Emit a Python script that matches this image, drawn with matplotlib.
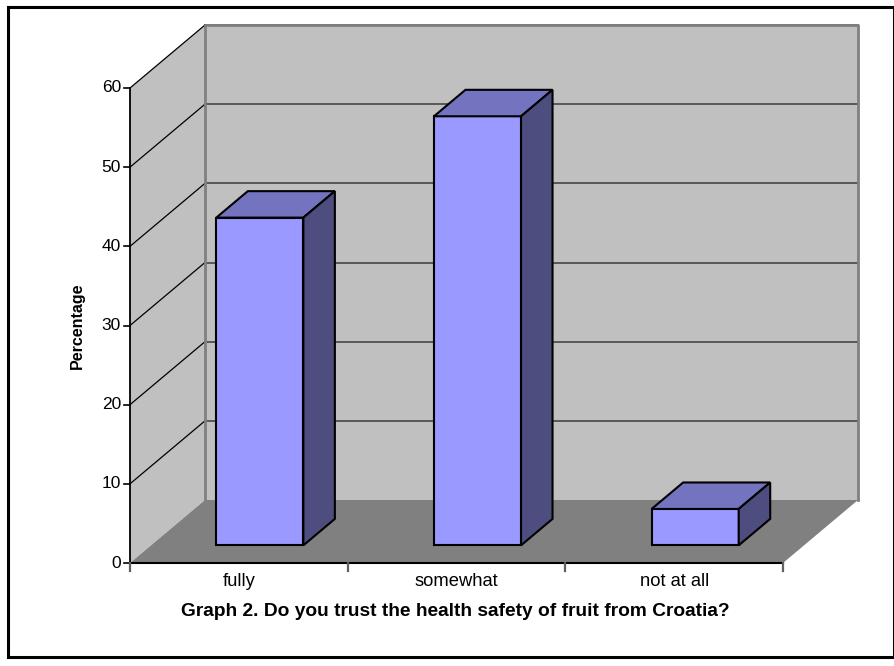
import matplotlib
matplotlib.use("Agg")
import matplotlib.pyplot as plt
from matplotlib.patches import Polygon, Rectangle

# Survey answers (percent of respondents)
categories = ["fully", "somewhat", "not at all"]
values = [41.4, 54.2, 4.6]
y_ticks = [0, 10, 20, 30, 40, 50, 60]
y_max = 60
y_label = "Percentage"
title = "Graph 2. Do you trust the health safety of fruit from Croatia?"

# Colours of the pseudo-3D chart
wall_color = "#C0C0C0"
floor_color = "#808080"
bar_front = "#9999FF"
bar_top = "#7373BF"
bar_side = "#4D4D80"

W, H = 894, 666
fig = plt.figure(figsize=(W / 100, H / 100), dpi=100)
ax = fig.add_axes([0, 0, 1, 1])
ax.set_axis_off()

# Front plane placement: pixels per category / per percent
px_cat = 653 / 3
px_val = 475 / 60
x0_px, y0_px = 130, 666 - 563
ax.set_xlim(-x0_px / px_cat, (W - x0_px) / px_cat)
ax.set_ylim(-y0_px / px_val, (H - y0_px) / px_val)

# Depth offset of the back wall in data units
DX = 75 / px_cat
DY = 63 / px_val
n = len(categories)

font = "Liberation Sans"

# Side wall, back wall, floor
ax.add_patch(Polygon([(0, 0), (DX, DY), (DX, y_max + DY), (0, y_max)],
                     closed=True, fc=wall_color, ec="none", zorder=1))
ax.add_patch(Polygon([(DX, DY), (n + DX, DY), (n + DX, y_max + DY), (DX, y_max + DY)],
                     closed=True, fc=wall_color, ec="none", zorder=1))
ax.add_patch(Polygon([(0, 0), (n, 0), (n + DX, DY), (DX, DY)],
                     closed=True, fc=floor_color, ec="none", zorder=2))

# Gridlines on the walls
for v in y_ticks[1:]:
    ax.plot([DX, n + DX], [v + DY, v + DY], color="#505050", lw=1.3, zorder=1.5)
    ax.plot([0, DX], [v, v + DY], color="black", lw=0.9, zorder=1.5)
# Wall outline
ax.plot([DX, DX, n + DX, n + DX], [DY, y_max + DY, y_max + DY, DY],
        color="#808080", lw=2, zorder=1.6)

# Axis lines and ticks
ax.plot([0, 0], [0, y_max], color="black", lw=1.3, zorder=3)
ax.plot([0, n], [0, 0], color="black", lw=1.5, zorder=3)
tick_x = 6 / px_cat
for v in y_ticks:
    ax.plot([-tick_x, 0], [v, v], color="black", lw=1.2, zorder=3)
    ax.text(-tick_x - 3 / px_cat, v, str(v), ha="right", va="center",
            fontsize=12.5, family=font, zorder=3)
for i in range(n + 1):
    ax.plot([i, i], [0, -8 / px_val], color="#606060", lw=1.6, zorder=3)
for i, c in enumerate(categories):
    ax.text(i + 0.5, -18 / px_val, c, ha="center", va="center",
            fontsize=13.2, family=font)

# Bars: front face, top and right side
bw = 0.4
f0, f1 = 0.28, 0.70
for i, v in enumerate(values):
    xl = i + 0.5 - bw / 2 + f0 * DX
    xr = xl + bw
    yb = f0 * DY
    ddx, ddy = (f1 - f0) * DX, (f1 - f0) * DY
    front = [(xl, yb), (xr, yb), (xr, yb + v), (xl, yb + v)]
    top = [(xl, yb + v), (xr, yb + v), (xr + ddx, yb + v + ddy), (xl + ddx, yb + v + ddy)]
    side = [(xr, yb), (xr + ddx, yb + ddy), (xr + ddx, yb + v + ddy), (xr, yb + v)]
    for poly, col in ((front, bar_front), (top, bar_top), (side, bar_side)):
        ax.add_patch(Polygon(poly, closed=True, fc=col, ec="black", lw=1.5,
                             joinstyle="miter", zorder=4))

# Axis title and caption
ax.text(-53 / px_cat, y_max / 2, y_label, rotation=90, ha="center", va="center",
        fontsize=11.5, fontweight="bold", family=font)
fig.text(455 / W, 1 - 612 / H, title, ha="center", va="center",
         fontsize=13.8, fontweight="bold", family=font)

# Outer frame
fig.add_artist(Rectangle((8 / W, 1 - 657 / H), (W - 8) / W, (657 - 7) / H,
                         transform=fig.transFigure, fill=False, ec="black", lw=2.2))

fig.savefig("out.png", dpi=100)
